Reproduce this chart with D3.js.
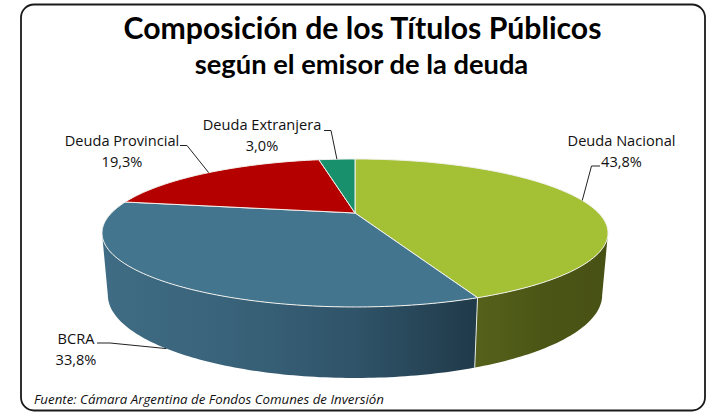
<!DOCTYPE html>
<html><head><meta charset="utf-8">
<style>html,body{margin:0;padding:0;background:#fff}svg{display:block}</style>
<script src="https://cdn.jsdelivr.net/npm/d3@7"></script></head>
<body><svg id="c" width="707" height="413"></svg>
<script>
const categories=["Deuda Nacional","BCRA","Deuda Provincial","Deuda Extranjera"];
const shares=[43.8,33.8,19.3,3.0];
const shareLabels=["43,8%","33,8%","19,3%","3,0%"];
const topColors=["#a4c034","#44758f","#b50000","#17906b"];
const titleLines=["Composición de los Títulos Públicos","según el emisor de la deuda"];
const sourceNote="Fuente:  Cámara Argentina de Fondos Comunes de Inversión";

const svg=d3.select("#c");
const W=707,H=413,CX=355,K=0.27;
const topFace={a:243.6,b:68.6,c:213};
const baseFace={a:238,b:77,c:272.5};
const project=(f,ang)=>{const u=Math.sin(ang),v=-Math.cos(ang),d=1-K*v;return [CX+f.a*u/d,f.c+f.b*v/d];};
const arcs=d3.pie().sort(null).value(d=>d)(shares);
const arcPts=(f,a0,a1)=>{const n=Math.max(2,Math.ceil((a1-a0)*60));return d3.range(n+1).map(i=>project(f,a0+(a1-a0)*i/n));};
const line=d3.line();

const defs=svg.append("defs");
function grad(id,stops,x1,x2){const g=defs.append("linearGradient").attr("id",id).attr("gradientUnits","userSpaceOnUse").attr("x1",x1).attr("x2",x2).attr("y1",0).attr("y2",0);
 stops.forEach((s,i)=>g.append("stop").attr("offset",i/(stops.length-1)).attr("stop-color",s));}
grad("sideBlue",["#3f6c84","#39637a","#30546a","#203a49"],102,477);
grad("sideGreen",["#55611a","#4b5616","#485114"],477,608);

svg.append("rect").attr("x",21).attr("y",4.5).attr("width",684).attr("height",406).attr("rx",13).attr("fill","#fff").attr("stroke","#1a1a1a").attr("stroke-width",1.8);

// side walls: visible between the silhouette angles
const silR=Math.acos(-K),silL=2*Math.PI-silR;
const sides=[{a0:silR,a1:arcs[0].endAngle,fill:"url(#sideGreen)"},{a0:arcs[0].endAngle,a1:silL,fill:"url(#sideBlue)"}];
svg.append("g").selectAll("path").data(sides).join("path")
 .attr("d",s=>line([...arcPts(topFace,s.a0,s.a1),...arcPts(baseFace,s.a0,s.a1).reverse()])+"Z")
 .attr("fill",s=>s.fill);
const seam=project(topFace,arcs[0].endAngle),seamB=project(baseFace,arcs[0].endAngle);
svg.append("path").attr("d",line([seam,seamB])).attr("stroke","#e6e9e4").attr("stroke-width",1).attr("fill","none");

// top face
const apex=[CX,topFace.c];
svg.append("g").selectAll("path").data(arcs).join("path")
 .attr("d",d=>line([apex,...arcPts(topFace,d.startAngle,d.endAngle)])+"Z")
 .attr("fill",(d,i)=>topColors[i]).attr("stroke","#f2f2ee").attr("stroke-width",1).attr("stroke-linejoin","round");

// leaders and labels
const labelLayout=[
 {x:621.5,y:145.5,lx:600,ly:166,kx:591.5,face:topFace},
 {x:76,y:344,lx:97,ly:343,kx:110,face:baseFace},
 {x:122,y:145.5,lx:180,ly:145.5,kx:187,face:topFace},
 {x:262,y:129.5,lx:324,ly:130.5,kx:331,face:topFace}
];
const lab=svg.append("g");
arcs.forEach((d,i)=>{const L=labelLayout[i];
 const end=project(L.face,(d.startAngle+d.endAngle)/2);
 lab.append("path").attr("d",line([[L.lx,L.ly],[L.kx,L.ly],end])).attr("fill","none").attr("stroke","#222").attr("stroke-width",1);
 const t=lab.append("text").attr("text-anchor","middle").attr("font-family","'Open Sans',sans-serif").attr("font-size",14.6).attr("fill","#111");
 t.append("tspan").attr("x",L.x).attr("y",L.y).text(categories[i]);
 t.append("tspan").attr("x",L.x).attr("y",L.y+21).text(shareLabels[i]);
});

svg.append("text").attr("x",362.5).attr("y",39).attr("text-anchor","middle").attr("font-family","Lato,sans-serif").attr("font-weight",700).attr("font-size",30.2).attr("fill","#000").text(titleLines[0]);
svg.append("text").attr("x",361.5).attr("y",74).attr("text-anchor","middle").attr("font-family","Lato,sans-serif").attr("font-weight",700).attr("font-size",27.3).attr("fill","#000").text(titleLines[1]);
svg.append("text").attr("x",34).attr("y",404).attr("font-family","'Open Sans',sans-serif").attr("font-style","italic").attr("font-size",13.3).attr("fill","#111").text(sourceNote);
</script></body></html>
